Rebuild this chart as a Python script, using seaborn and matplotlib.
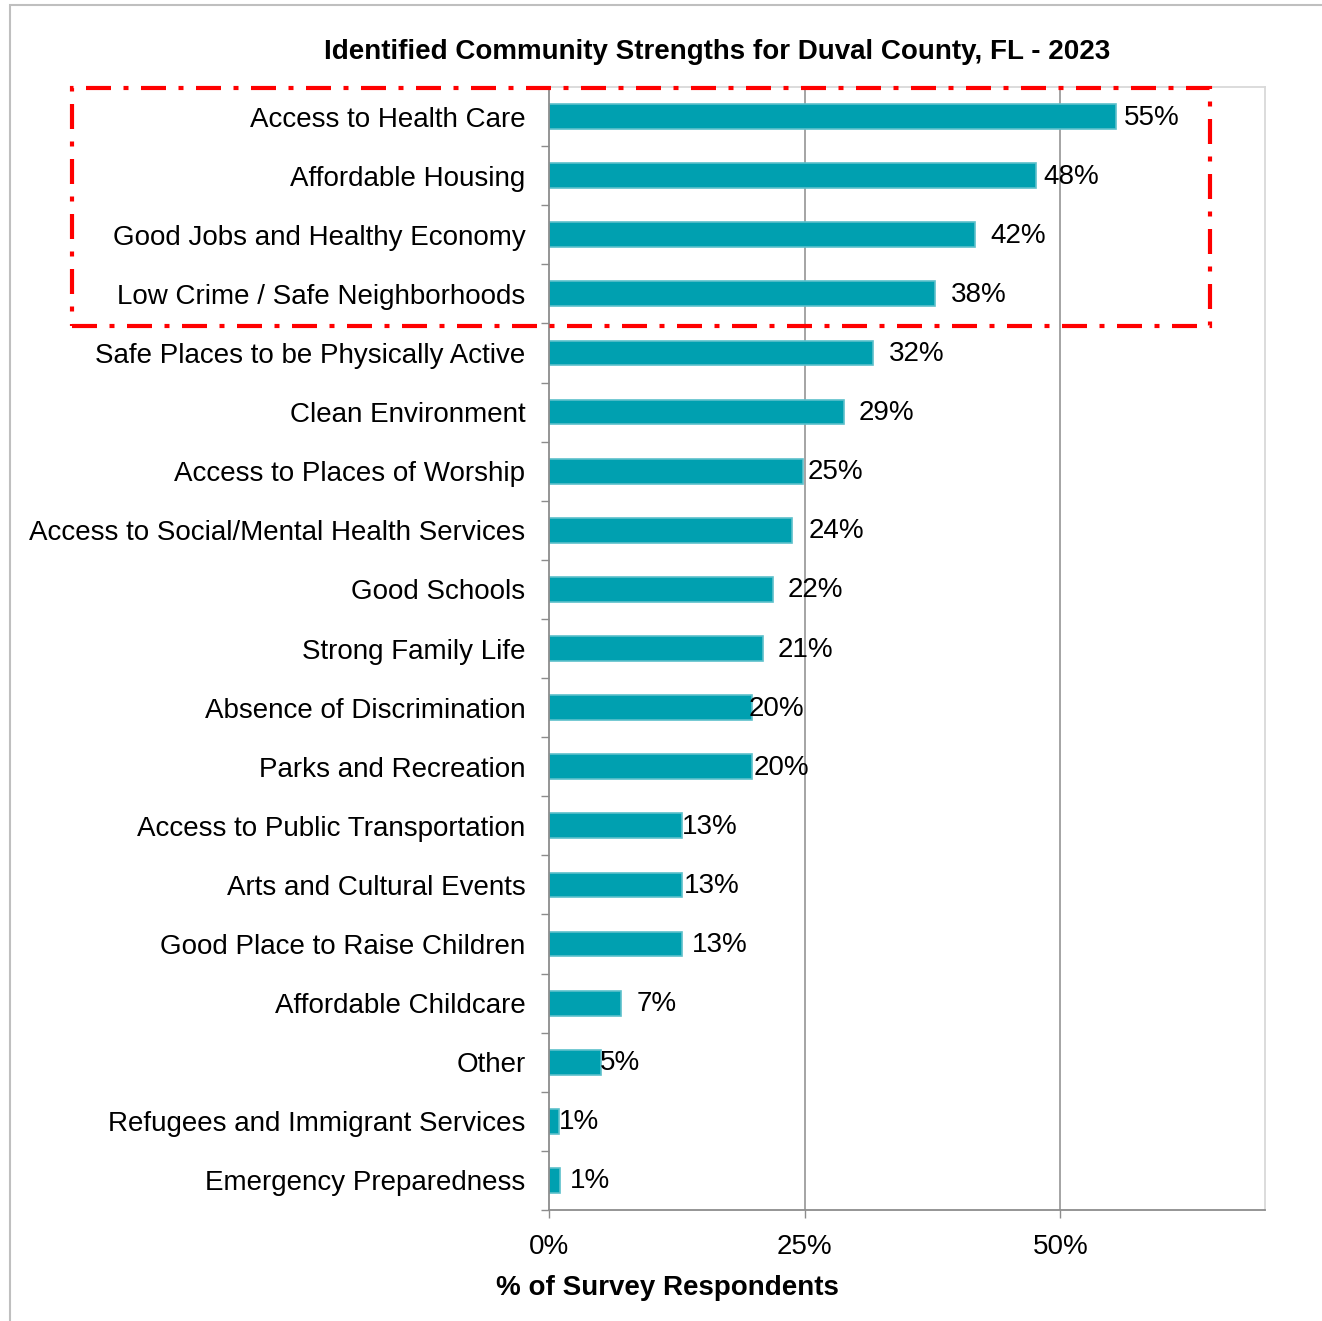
import matplotlib
matplotlib.use("Agg")
import matplotlib.pyplot as plt
from matplotlib.patches import Rectangle
from matplotlib.ticker import FixedLocator
import pandas as pd
import seaborn as sns

# Data
categories = [
    "Access to Health Care",
    "Affordable Housing",
    "Good Jobs and Healthy Economy",
    "Low Crime / Safe Neighborhoods",
    "Safe Places to be Physically Active",
    "Clean Environment",
    "Access to Places of Worship",
    "Access to Social/Mental Health Services",
    "Good Schools",
    "Strong Family Life",
    "Absence of Discrimination",
    "Parks and Recreation",
    "Access to Public Transportation",
    "Arts and Cultural Events",
    "Good Place to Raise Children",
    "Affordable Childcare",
    "Other",
    "Refugees and Immigrant Services",
    "Emergency Preparedness",
]
percent = [55.4, 47.6, 41.6, 37.7, 31.7, 28.8, 24.8, 23.8, 21.9, 20.9,
           19.8, 19.8, 13.0, 13.0, 13.0, 7.0, 5.1, 1.0, 1.1]
labels = ["55%", "48%", "42%", "38%", "32%", "29%", "25%", "24%", "22%", "21%",
          "20%", "20%", "13%", "13%", "13%", "7%", "5%", "1%", "1%"]
# label nudge from bar end, in pixels (Excel placed them unevenly)
label_nudge = [8, 7, 16, 16, 16, 15, 5, 16, 15, 15, -3, 2, 0, 2, 10, 16, -1, 0, 10]

df = pd.DataFrame({"category": categories, "percent": percent})

sns.set_style("white")
plt.rcParams["font.family"] = ["Liberation Sans", "DejaVu Sans"]
plt.rcParams["text.color"] = "black"
plt.rcParams["xtick.color"] = "black"
plt.rcParams["ytick.color"] = "black"
plt.rcParams["axes.labelcolor"] = "black"

fig = plt.figure(figsize=(13.22, 13.21), dpi=100)
W, H = 1322, 1321
ax = fig.add_axes([549 / W, 1 - 1210 / H, (1265 - 549) / W, (1210 - 87) / H])

sns.barplot(data=df, y="category", x="percent", orient="h", ax=ax,
            color="#00A0B0", edgecolor="#5CC0CB", linewidth=1.2, width=0.42,
            saturation=1)

ax.set_xlim(0, 70)
ax.set_ylim(len(categories) - 0.5, -0.5)

# gridlines at 25/50
ax.set_xticks([0, 25, 50])
ax.set_xticklabels(["0%", "25%", "50%"])
for v in [25, 50]:
    ax.axvline(v, color="#8C8C8C", lw=1.1, zorder=0)

# data labels
for i, (v, lab, dx) in enumerate(zip(percent, labels, label_nudge)):
    ax.annotate(lab, xy=(v, i), xytext=(dx, -1), textcoords="offset pixels",
                ha="left", va="center", fontsize=20, color="black")

# y ticks: labels at centers, tick marks on category boundaries
ax.yaxis.set_minor_locator(FixedLocator([i + 0.5 for i in range(-1, len(categories))]))
ax.tick_params(axis="y", which="major", length=0, pad=17, labelsize=20)
ax.tick_params(axis="y", which="minor", left=True, length=6, width=1, color="#8C8C8C")
ax.tick_params(axis="x", which="major", bottom=True, length=6, width=1,
               color="#8C8C8C", labelsize=20, pad=11)

ax.set_ylabel("")
ax.set_xlabel("% of Survey Respondents", fontsize=20, fontweight="bold")
ax.xaxis.set_label_coords((667 - 549) / (1265 - 549), -0.058)

for side in ["left", "bottom"]:
    ax.spines[side].set_color("#8C8C8C")
    ax.spines[side].set_linewidth(1.3)
for side in ["top", "right"]:
    ax.spines[side].set_color("#D9D9D9")
    ax.spines[side].set_linewidth(1.3)

fig.text(717 / W, 1 - 52 / H, "Identified Community Strengths for Duval County, FL - 2023",
         ha="center", va="center", fontsize=20, fontweight="bold")

# red dash-dot highlight box around the top four
fig.patches.append(Rectangle((72 / W, 1 - 326 / H), (1210 - 72) / W, (326 - 88) / H,
                             transform=fig.transFigure, fill=False, edgecolor="red",
                             linewidth=3, linestyle=(0, (6, 3, 1.2, 3)), zorder=10))

# outer chart border (partly cropped)
fig.patches.append(Rectangle((10 / W, -0.01), 1.02, 1 - 5 / H + 0.01,
                             transform=fig.transFigure, fill=False,
                             edgecolor="#BFBFBF", linewidth=1.5))

plt.savefig("out.png", dpi=100)
plt.close()
